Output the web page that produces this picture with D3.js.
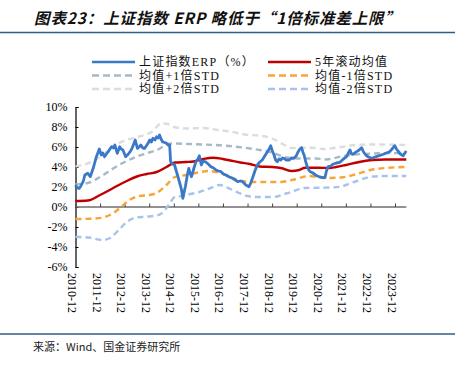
<!DOCTYPE html>
<html><head><meta charset="utf-8">
<script src="https://cdn.jsdelivr.net/npm/d3@7"></script>
<style>
body{margin:0;background:#fff;}
svg{display:block;}
</style></head>
<body>
<svg id="chart" width="455" height="366"></svg>
<script>
// ---- data (decimal years; values in %) ----
const erpYears = [2010.92,2011.00,2011.07,2011.14,2011.24,2011.30,2011.42,2011.52,2011.64,2011.77,2011.89,2011.97,2012.03,2012.10,2012.18,2012.25,2012.32,2012.39,2012.46,2012.52,2012.62,2012.72,2012.78,2012.85,2012.96,2013.03,2013.09,2013.16,2013.22,2013.29,2013.35,2013.44,2013.51,2013.58,2013.66,2013.73,2013.80,2013.87,2013.94,2014.01,2014.07,2014.15,2014.22,2014.28,2014.34,2014.40,2014.47,2014.55,2014.62,2014.69,2014.75,2014.79,2014.87,2014.95,2015.07,2015.22,2015.29,2015.34,2015.39,2015.47,2015.53,2015.58,2015.64,2015.74,2015.82,2015.90,2015.96,2016.04,2016.12,2016.20,2016.32,2016.43,2016.54,2016.64,2016.74,2016.84,2016.94,2017.04,2017.18,2017.31,2017.42,2017.52,2017.62,2017.72,2017.85,2017.98,2018.05,2018.12,2018.22,2018.32,2018.42,2018.52,2018.62,2018.73,2018.80,2018.86,2018.93,2019.00,2019.06,2019.13,2019.20,2019.27,2019.34,2019.40,2019.50,2019.62,2019.71,2019.80,2019.90,2019.98,2020.05,2020.12,2020.17,2020.22,2020.29,2020.35,2020.41,2020.47,2020.58,2020.69,2020.76,2020.84,2020.95,2021.07,2021.13,2021.20,2021.30,2021.39,2021.53,2021.68,2021.82,2021.95,2022.02,2022.09,2022.15,2022.20,2022.28,2022.36,2022.46,2022.56,2022.64,2022.73,2022.84,2022.96,2023.06,2023.16,2023.30,2023.44,2023.57,2023.70,2023.80,2023.91,2023.98,2024.04,2024.14,2024.25,2024.32,2024.38];
const erpValues = [2.2,1.9,1.87,2.1,2.6,3.2,3.37,3.03,3.87,5.03,5.8,5.2,5.4,5.03,5.3,5.53,5.8,6.03,5.9,6.2,5.37,6.03,5.8,5.7,5.03,5.2,5.37,5.6,5.87,6.3,6.7,5.87,6.0,6.2,5.9,5.87,6.1,6.37,6.7,6.5,6.87,6.7,7.03,6.9,7.2,6.8,6.5,6.45,6.37,6.2,6.2,4.53,4.3,4.2,3.2,1.87,0.87,1.5,2.03,3.2,3.87,3.4,3.03,3.9,4.53,4.8,5.13,4.2,4.6,4.53,4.3,4.03,3.9,3.7,3.6,3.53,3.3,3.2,3.0,2.87,2.7,2.53,2.6,2.53,2.2,2.03,2.4,2.87,3.6,4.2,4.5,4.7,5.1,5.53,5.8,6.13,5.6,5.2,4.7,4.53,4.8,4.7,4.9,4.87,4.7,4.7,4.9,4.87,5.1,5.53,5.8,5.93,5.5,5.2,4.5,4.03,3.7,3.53,3.4,3.2,3.1,3.03,2.95,2.93,3.6,4.03,4.1,4.27,4.4,4.47,4.8,5.03,5.4,5.7,5.3,5.27,5.4,5.53,5.7,5.93,5.5,5.2,5.0,4.87,4.95,5.03,5.15,5.27,5.4,5.53,5.8,6.13,5.8,5.6,5.3,5.13,5.4,5.6];

const meanYears = [2010.92,2011.42,2011.92,2012.42,2012.92,2013.42,2013.82,2014.22,2014.62,2014.97,2015.42,2015.72,2016.12,2016.52,2016.92,2017.22,2017.62,2018.02,2018.42,2018.92,2019.32,2019.72,2020.02,2020.27,2020.82,2021.22,2021.52,2021.92,2022.37,2023.02,2023.52,2024.38];
const meanValues = [0.6,0.65,1.2,1.85,2.5,3.05,3.3,3.5,4.0,4.45,4.5,4.55,4.8,4.93,4.8,4.65,4.45,4.3,4.05,4.0,3.87,3.6,3.7,3.93,3.93,3.9,4.0,4.2,4.45,4.7,4.75,4.75];

const plus1Years = [2010.92,2011.42,2011.92,2012.42,2012.92,2013.42,2013.92,2014.32,2014.62,2014.92,2015.52,2016.12,2016.92,2017.72,2018.42,2018.92,2019.52,2020.12,2020.72,2021.12,2021.72,2022.32,2023.02,2024.38];
const plus1Values = [2.27,2.4,3.0,3.8,4.5,5.05,5.45,5.8,6.25,6.35,6.3,6.25,6.15,5.95,5.7,5.45,4.95,4.85,4.85,4.75,5.05,5.25,5.35,5.4];

const plus2Years = [2010.92,2011.42,2011.92,2012.42,2012.92,2013.52,2014.02,2014.42,2014.67,2014.92,2015.42,2016.12,2016.72,2017.22,2017.82,2018.52,2018.92,2019.42,2019.72,2020.52,2021.02,2021.72,2022.32,2023.02,2024.38];
const plus2Values = [4.03,4.37,5.0,6.0,6.65,7.05,7.5,8.35,8.3,8.0,7.85,7.9,7.7,7.55,7.25,7.1,6.85,6.2,5.9,5.93,5.8,6.0,6.2,6.25,6.2];

const minus1Years = [2010.92,2011.52,2012.02,2012.22,2012.45,2012.79,2013.12,2013.52,2013.92,2014.22,2014.62,2014.92,2015.42,2015.92,2016.32,2016.72,2017.02,2017.52,2018.12,2019.22,2019.82,2020.42,2021.02,2021.72,2022.37,2022.92,2023.52,2024.38];
const minus1Values = [-1.2,-1.17,-1.07,-0.9,-0.63,0.03,0.7,1.1,1.2,1.4,2.2,2.95,3.2,3.45,3.6,3.45,3.2,2.7,2.5,2.5,2.75,3.1,2.9,2.95,3.3,3.7,3.9,4.0];

const minus2Years = [2010.92,2011.52,2012.02,2012.34,2012.68,2013.02,2013.36,2013.77,2014.17,2014.44,2014.71,2014.98,2015.29,2015.52,2015.96,2016.42,2016.77,2017.22,2017.58,2017.92,2018.32,2018.97,2019.42,2019.67,2020.22,2021.02,2021.72,2022.09,2022.37,2023.02,2023.52,2024.38];
const minus2Values = [-2.97,-3.07,-3.3,-3.07,-2.3,-1.47,-1.07,-0.97,-0.87,-0.63,0.2,1.03,1.1,1.25,1.5,1.9,2.2,1.8,1.4,1.1,1.0,1.0,1.3,1.47,1.9,1.93,2.03,2.37,2.6,3.05,3.1,3.1];

const xTickYears = [2010.92,2011.92,2012.92,2013.92,2014.92,2015.92,2016.92,2017.92,2018.92,2019.92,2020.92,2021.92,2022.92,2023.92];
const xTickLabels = ['2010-12','2011-12','2012-12','2013-12','2014-12','2015-12','2016-12','2017-12','2018-12','2019-12','2020-12','2021-12','2022-12','2023-12'];
const yTicks = [-6,-4,-2,0,2,4,6,8,10];

const seriesNames = ['上证指数ERP（%）','5年滚动均值','均值+1倍STD','均值-1倍STD','均值+2倍STD','均值-2倍STD'];

const titleText = '图表23：上证指数 ERP 略低于“1倍标准差上限”';
const sourceText = '来源：Wind、国金证券研究所';

// ---- drawing ----
const svg = d3.select('#chart');
const x = d3.scaleLinear().domain([2010.92, 2023.92]).range([75.5, 395]);
const y = d3.scaleLinear().domain([-6, 10]).range([267, 107]);

const serif = '"Liberation Serif","Times New Roman","Noto Sans CJK SC",serif';
const cjk = '"Noto Sans CJK SC","Noto Sans",sans-serif';

// title
svg.append('text').attr('x', 34).attr('y', 24)
  .attr('font-family', cjk).attr('font-weight', 'bold').attr('font-style', 'italic')
  .attr('font-size', 15.5).attr('fill', '#111')
  .attr('textLength', 366).attr('lengthAdjust', 'spacing')
  .text(titleText);
svg.append('line').attr('x1', 0).attr('x2', 455).attr('y1', 32.5).attr('y2', 32.5)
  .attr('stroke', '#2f5c85').attr('stroke-width', 1.5);
svg.append('line').attr('x1', 0).attr('x2', 455).attr('y1', 334).attr('y2', 334)
  .attr('stroke', '#2f5c85').attr('stroke-width', 1.5);
svg.append('text').attr('x', 33).attr('y', 351)
  .attr('font-family', cjk).attr('font-size', 11).attr('fill', '#222')
  .text(sourceText);

// series styles
const styles = [
  {color:'#3a78c8', width:2.8, dash:null},
  {color:'#c00000', width:2.4, dash:null},
  {color:'#a6b9c6', width:2.4, dash:'6,4'},
  {color:'#f7a534', width:2.4, dash:'6,4'},
  {color:'#dcdcdc', width:2.4, dash:'6,4'},
  {color:'#a7c3ec', width:2.4, dash:'6,4'}
];

// y axis
const yAxis = d3.axisLeft(y).tickValues(yTicks).tickSize(-3).tickPadding(8)
  .tickFormat(d => d + '%');
const gy = svg.append('g').attr('transform', 'translate(75.5,0)').call(yAxis);
gy.select('.domain').attr('stroke', '#000').attr('stroke-width', 1.2);
gy.selectAll('.tick line').attr('stroke', '#000');
gy.selectAll('.tick text').attr('font-family', serif).attr('font-size', 12).attr('fill', '#000');

// x axis at zero
const xAxis = d3.axisBottom(x).tickValues(xTickYears).tickSize(-3.5).tickFormat('');
const gx = svg.append('g').attr('transform', `translate(0,${y(0)})`).call(xAxis);
gx.select('.domain').attr('stroke', '#6e6e6e').attr('stroke-width', 1.6)
  .attr('d', `M75.5,0H${x(2024.38)}`);
gx.selectAll('.tick line').attr('stroke', '#444');

// x tick labels (rotated, below plot)
svg.append('g').selectAll('text').data(xTickYears).join('text')
  .attr('transform', d => `translate(${x(d) - 3.5},273) rotate(90)`)
  .attr('dominant-baseline', 'central')
  .attr('font-family', serif).attr('font-size', 12).attr('fill', '#000')
  .text((d, i) => xTickLabels[i]);

// lines
const lineGen = (curve) => d3.line().x(d => x(d[0])).y(d => y(d[1])).curve(curve);
const data = [
  d3.zip(erpYears, erpValues),
  d3.zip(meanYears, meanValues),
  d3.zip(plus1Years, plus1Values),
  d3.zip(minus1Years, minus1Values),
  d3.zip(plus2Years, plus2Values),
  d3.zip(minus2Years, minus2Values)
];
const drawOrder = [4, 2, 5, 3, 1, 0];
drawOrder.forEach(i => {
  svg.append('path').datum(data[i])
    .attr('d', lineGen(i === 0 ? d3.curveLinear : d3.curveMonotoneX))
    .attr('fill', 'none').attr('stroke', styles[i].color)
    .attr('stroke-width', styles[i].width)
    .attr('stroke-dasharray', styles[i].dash)
    .attr('stroke-linejoin', 'round');
});

// legend
const legPos = [[92,62],[268,62],[92,75.5],[268,75.5],[92,89],[268,89]];
const lg = svg.append('g');
seriesNames.forEach((name, i) => {
  const [lx, ly] = legPos[i];
  lg.append('line').attr('x1', lx).attr('x2', lx + 43).attr('y1', ly).attr('y2', ly)
    .attr('stroke', styles[i].color).attr('stroke-width', 2.6)
    .attr('stroke-dasharray', styles[i].dash ? '7,4' : null);
  lg.append('text').attr('x', lx + 47).attr('y', ly).attr('dominant-baseline', 'central')
    .attr('font-family', serif).attr('font-size', 12).attr('fill', '#111')
    .attr('letter-spacing', 1.2)
    .text(name);
});
</script>
</body></html>
